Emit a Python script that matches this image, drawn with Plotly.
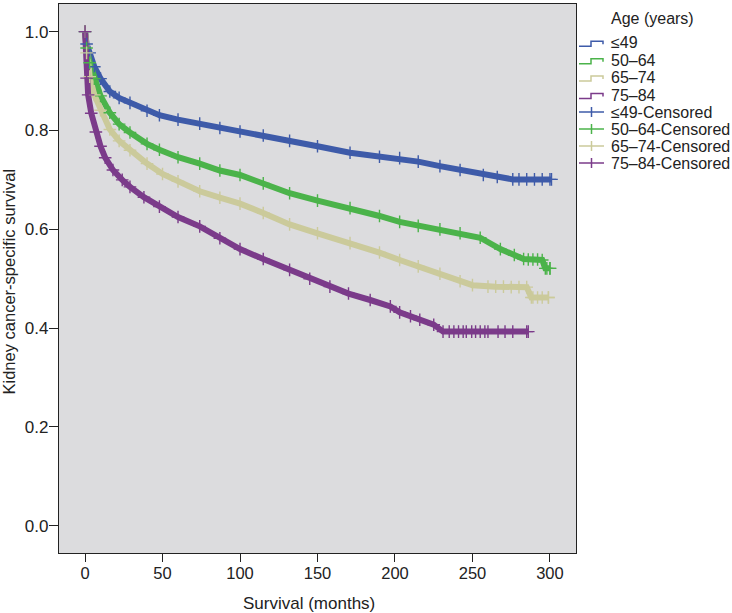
import plotly.graph_objects as go

# ---------------- data ----------------
groups = ["≤49", "50–64", "65–74", "75–84"]
colors = ["#3e5ba9", "#4bb34a", "#cbca9b", "#7b3b8a"]

months_49 = [0, 1, 3, 6, 10, 16, 22, 29, 40, 48, 60, 74, 87, 100, 115, 132, 150, 171,
             190, 203, 215, 229, 242, 257, 266, 276, 301]
surv_49 = [1.0, 0.975, 0.957, 0.929, 0.905, 0.879, 0.866, 0.856, 0.840, 0.831, 0.822,
           0.814, 0.805, 0.798, 0.790, 0.779, 0.768, 0.755, 0.747, 0.744, 0.737, 0.728,
           0.720, 0.710, 0.706, 0.701, 0.701]

months_50 = [0, 1, 3, 6, 10, 16, 22, 29, 40, 48, 60, 74, 87, 100, 115, 132, 150, 171,
             190, 203, 215, 229, 242, 255, 268, 277, 283, 295, 297, 300]
surv_50 = [1.0, 0.967, 0.937, 0.905, 0.870, 0.836, 0.813, 0.796, 0.773, 0.761, 0.746,
           0.733, 0.719, 0.710, 0.693, 0.673, 0.658, 0.643, 0.627, 0.615, 0.607, 0.600,
           0.592, 0.583, 0.560, 0.548, 0.540, 0.538, 0.521, 0.521]

months_65 = [0, 1, 3, 6, 10, 16, 22, 29, 40, 50, 60, 74, 87, 100, 115, 132, 150, 171,
             190, 203, 215, 229, 242, 250, 265, 285, 288, 299]
surv_65 = [1.0, 0.957, 0.909, 0.872, 0.841, 0.802, 0.779, 0.760, 0.733, 0.712, 0.697,
           0.677, 0.664, 0.652, 0.633, 0.610, 0.592, 0.572, 0.553, 0.538, 0.525, 0.510,
           0.495, 0.487, 0.484, 0.483, 0.462, 0.462]

months_75 = [0, 1, 2, 4, 7, 10, 13, 18, 24, 29, 38, 48, 60, 74, 87, 100, 115, 132, 145,
             158, 170, 184, 197, 203, 210, 216, 225, 231, 286]
surv_75 = [1.0, 0.906, 0.872, 0.835, 0.797, 0.768, 0.745, 0.720, 0.700, 0.686, 0.665,
           0.646, 0.625, 0.606, 0.582, 0.560, 0.540, 0.518, 0.500, 0.484, 0.470, 0.457,
           0.444, 0.432, 0.424, 0.417, 0.407, 0.393, 0.393]

# censored observations that stand apart at the tails
cens_extra_t_49 = [280, 285, 290, 295, 300]
cens_extra_s_49 = [0.701, 0.701, 0.701, 0.701, 0.701]
cens_extra_t_50 = [286, 289, 292, 298, 300]
cens_extra_s_50 = [0.539, 0.539, 0.539, 0.521, 0.521]
cens_extra_t_65 = [260, 270, 275, 280, 289, 292, 295, 299]
cens_extra_s_65 = [0.484, 0.484, 0.483, 0.483, 0.462, 0.462, 0.462, 0.462]
cens_extra_t_75 = [235, 238, 241, 244, 246, 249.5, 252, 255, 258, 260, 266.5, 271, 276, 285]
cens_extra_s_75 = [0.393] * 14

x_ticks = [0, 50, 100, 150, 200, 250, 300]
y_ticks = [0.0, 0.2, 0.4, 0.6, 0.8, 1.0]

legend_title = "Age (years)"
x_title = "Survival (months)"
y_title = "Kidney cancer-specific survival"

# ---------------- figure ----------------
FONT = "Arial, 'Liberation Sans', sans-serif"
W, H = 732, 613
L, R, T, B = 59, 576, 4, 553

series = [
    (months_49, surv_49, cens_extra_t_49, cens_extra_s_49),
    (months_50, surv_50, cens_extra_t_50, cens_extra_s_50),
    (months_65, surv_65, cens_extra_t_65, cens_extra_s_65),
    (months_75, surv_75, cens_extra_t_75, cens_extra_s_75),
]

fig = go.Figure()
for name, col, (t, s, et, es) in zip(groups, colors, series):
    fig.add_trace(go.Scatter(x=t, y=s, mode="lines", name=name,
                             line=dict(color=col, width=6), showlegend=False,
                             hoverinfo="skip"))
for name, col, (t, s, et, es) in zip(groups, colors, series):
    fig.add_trace(go.Scatter(x=list(t) + list(et), y=list(s) + list(es), mode="markers",
                             name=name + "-Censored", showlegend=False,
                             marker=dict(symbol="cross-thin", size=9, color=col,
                                         line=dict(color=col, width=1.4))))


def px_x(px):
    return (px - L) / (R - L)


def px_y(py):
    return (B - py) / (B - T)


shapes = []
annotations = []
annotations.append(dict(text=legend_title, x=px_x(609), y=px_y(18.5), xref="paper", yref="paper",
                        xanchor="left", yanchor="middle", showarrow=False,
                        font=dict(family=FONT, size=16, color="#222")))
item_y = [42.7, 60.2, 77.6, 95.0, 112.0, 129.0, 146.0, 163.0]
labels = groups + [g + "-Censored" for g in groups]
for i, (lab, cy) in enumerate(zip(labels, item_y)):
    col = colors[i % 4]
    annotations.append(dict(text=lab, x=px_x(609), y=px_y(cy), xref="paper", yref="paper",
                            xanchor="left", yanchor="middle", showarrow=False,
                            font=dict(family=FONT, size=16, color="#222")))
    if i < 4:
        path = "M {},{} H {} V {} H {} V {}".format(
            px_x(579), px_y(cy + 3.5), px_x(591), px_y(cy - 1.5), px_x(603), px_y(cy + 1.5))
        shapes.append(dict(type="path", path=path, xref="paper", yref="paper",
                           line=dict(color=col, width=1.5)))
    else:
        shapes.append(dict(type="line", xref="paper", yref="paper", x0=px_x(579), x1=px_x(604),
                           y0=px_y(cy), y1=px_y(cy), line=dict(color=col, width=1.5)))
        shapes.append(dict(type="line", xref="paper", yref="paper", x0=px_x(591.5), x1=px_x(591.5),
                           y0=px_y(cy - 5), y1=px_y(cy + 5), line=dict(color=col, width=1.5)))

annotations.append(dict(text=x_title, x=px_x(308.5), y=px_y(603), xref="paper", yref="paper",
                        xanchor="center", yanchor="middle", showarrow=False,
                        font=dict(family=FONT, size=17, color="#222")))
annotations.append(dict(text=y_title, x=px_x(8), y=px_y(281.5), xref="paper", yref="paper",
                        xanchor="center", yanchor="middle", showarrow=False, textangle=-90,
                        font=dict(family=FONT, size=16.5, color="#222")))

fig.update_layout(
    width=W, height=H,
    margin=dict(l=L, r=W - R, t=T, b=H - B, pad=0),
    paper_bgcolor="white",
    plot_bgcolor="#dcdcde",
    showlegend=False,
    shapes=shapes,
    annotations=annotations,
    font=dict(family=FONT, size=16, color="#222"),
)
fig.update_xaxes(range=[-16.8, 316.8], tickvals=x_ticks, ticks="outside", ticklen=8,
                 tickwidth=1.4, tickcolor="#222", showgrid=False, zeroline=False,
                 showline=True, linecolor="#222", linewidth=1.4, mirror=True,
                 ticklabelstandoff=-3,
                 tickfont=dict(family=FONT, size=16.5, color="#222"))
fig.update_yaxes(range=[-0.055, 1.056], tickvals=y_ticks, tickformat=".1f", ticks="outside",
                 ticklen=9, tickwidth=1.4, tickcolor="#222", showgrid=False, zeroline=False,
                 showline=True, linecolor="#222", linewidth=1.4, mirror=True,
                 ticklabelstandoff=-3,
                 tickfont=dict(family=FONT, size=17, color="#222"))

fig.write_html("out.html", config={"displayModeBar": False},
               post_script="document.body.style.margin='0';document.body.style.overflow='hidden';")
